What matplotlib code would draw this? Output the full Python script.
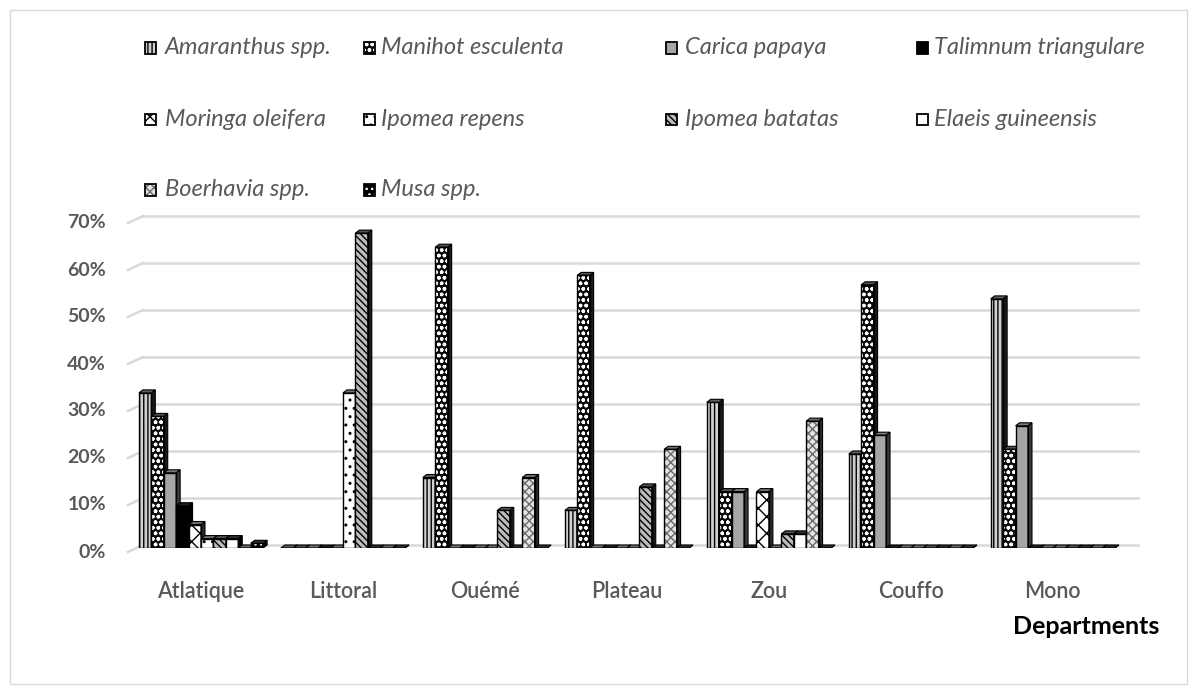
import matplotlib
matplotlib.use("Agg")
import matplotlib.pyplot as plt
from matplotlib.patches import Polygon, Rectangle

# Share of each species by department (%)
departments = ["Atlatique", "Littoral", "Ouémé", "Plateau", "Zou", "Couffo", "Mono"]
species = ["Amaranthus spp.", "Manihot esculenta", "Carica papaya", "Talimnum triangulare",
           "Moringa oleifera", "Ipomea repens", "Ipomea batatas", "Elaeis guineensis",
           "Boerhavia spp.", "Musa spp."]
amaranthus = [33, 0, 15, 8, 31, 20, 53]
manihot = [28, 0, 64, 58, 12, 56, 21]
carica = [16, 0, 0, 0, 12, 24, 26]
talimnum = [9, 0, 0, 0, 0, 0, 0]
moringa = [5, 0, 0, 0, 12, 0, 0]
ipomea_repens = [2, 33, 0, 0, 0, 0, 0]
ipomea_batatas = [2, 67, 8, 13, 3, 0, 0]
elaeis = [2, 0, 0, 0, 3, 0, 0]
boerhavia = [0, 0, 15, 21, 27, 0, 0]
musa = [1, 0, 0, 0, 0, 0, 0]
ytick_values = [0, 10, 20, 30, 40, 50, 60, 70]
ytick_labels = ["0%", "10%", "20%", "30%", "40%", "50%", "60%", "70%"]
x_label = "Departments"

series = [amaranthus, manihot, carica, talimnum, moringa,
          ipomea_repens, ipomea_batatas, elaeis, boerhavia, musa]

# (face colour, hatch, hatch colour, side colour, top colour)
styles = [
    ("#d0d0d0", "||||", "#000000", "#1a1a1a", "#606060"),
    ("#0a0a0a", "ooo", "#ffffff", "#1a1a1a", "#505050"),
    ("#a6a6a6", "", "#000000", "#3a3a3a", "#7a7a7a"),
    ("#000000", "", "#000000", "#000000", "#202020"),
    ("#ffffff", "xx", "#000000", "#2a2a2a", "#707070"),
    ("#ffffff", "..", "#000000", "#2a2a2a", "#707070"),
    ("#bdbdbd", "\\\\\\\\\\", "#000000", "#1a1a1a", "#505050"),
    ("#ffffff", "", "#000000", "#000000", "#303030"),
    ("#e4e4e4", "xxxx", "#6a6a6a", "#2a2a2a", "#707070"),
    ("#000000", "...", "#ffffff", "#000000", "#303030"),
]

plt.rcParams["hatch.linewidth"] = 1.0
plt.rcParams["font.family"] = ["Lato", "DejaVu Sans"]

W, H = 1197, 694
fig = plt.figure(figsize=(W / 100, H / 100), dpi=100)
fig.patch.set_facecolor("white")

# chart area border
fig.add_artist(Rectangle((10 / W, 10 / H), (W - 20) / W, (H - 20) / H,
                         transform=fig.transFigure, fill=False,
                         edgecolor="#d9d9d9", lw=1.0))

ax_left, ax_right = 130, 1138
ax_bottom, ax_top = 548, 219
ax = fig.add_axes([ax_left / W, 1 - ax_bottom / H,
                   (ax_right - ax_left) / W, (ax_bottom - ax_top) / H])
x_lo, x_hi = -0.5, 6.6
y_hi = 70
ax.set_xlim(x_lo, x_hi)
ax.set_ylim(0, y_hi)
ax.axis("off")

px_x = (x_hi - x_lo) / (ax_right - ax_left)   # data units per pixel (x)
px_y = y_hi / (ax_bottom - ax_top)             # data units per pixel (y)

# back-wall gridlines with the short slanted side-wall segment
for v, lab in zip(ytick_values, ytick_labels):
    yb = v + 3 * px_y
    ax.plot([x_lo - 2 * px_x, x_lo + 13 * px_x], [v - 4 * px_y, yb],
            color="#d9d9d9", lw=1.8, clip_on=False, zorder=0)
    ax.plot([x_lo + 13 * px_x, x_hi], [yb, yb], color="#d9d9d9", lw=1.8,
            clip_on=False, zorder=0)
    ax.text(x_lo - 24 * px_x, v - 4 * px_y, lab,
            ha="right", va="center", fontsize=14, fontweight="bold",
            color="#595959")

n = len(series)
bw = 0.0875
dx = 4 * px_x
dy = 3 * px_y
for i, vals in enumerate(series):
    face, hatch, hcol, side, top = styles[i]
    xs = [c + (i - (n - 1) / 2) * bw for c in range(len(departments))]
    z = 2 + i
    ax.bar(xs, vals, width=bw, color=face, edgecolor=hcol, hatch=hatch,
           lw=0, zorder=z)
    ax.bar(xs, vals, width=bw, fill=False, edgecolor="#000000", lw=1.0,
           zorder=z + 0.2)
    for xc, v in zip(xs, vals):
        xl, xr = xc - bw / 2, xc + bw / 2
        ax.add_patch(Polygon([(xr, 0), (xr + dx, dy), (xr + dx, v + dy), (xr, v)],
                             closed=True, facecolor=side, edgecolor="#000000",
                             lw=0.8, zorder=z + 0.1))
        ax.add_patch(Polygon([(xl, v), (xr, v), (xr + dx, v + dy), (xl + dx, v + dy)],
                             closed=True, facecolor=top, edgecolor="#000000",
                             lw=0.8, zorder=z + 0.1))

# category labels
for c, name in enumerate(departments):
    ax.text(c, -9.2, name, ha="center", va="center", fontsize=15.5,
            color="#595959", fontweight="semibold")
fig.text(1086 / W, 1 - 626 / H, x_label, ha="center", va="center",
         fontsize=18, fontweight="bold", color="#000000")

# legend
mark_x = [145, 364, 666, 917]
text_x = [165, 381, 685, 934]
rows_y = [48, 119, 190]
for i, name in enumerate(species):
    r, c = divmod(i, 4)
    face, hatch, hcol, side, top = styles[i]
    y = rows_y[r]
    s = 11
    fig.add_artist(Rectangle((mark_x[c] / W, 1 - (y + s / 2) / H), s / W, s / H,
                             transform=fig.transFigure, facecolor=face,
                             edgecolor=hcol, hatch=hatch, lw=0))
    fig.add_artist(Rectangle((mark_x[c] / W, 1 - (y + s / 2) / H), s / W, s / H,
                             transform=fig.transFigure, fill=False,
                             edgecolor="#000000", lw=1.3))
    fig.text(text_x[c] / W, 1 - y / H, name, ha="left", va="center",
             fontsize=17, fontstyle="italic", color="#595959")

fig.savefig("out.png", dpi=100)
